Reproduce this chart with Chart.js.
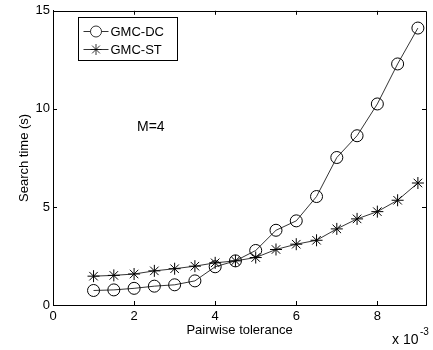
<!DOCTYPE html>
<html>
<head>
<meta charset="utf-8">
<script src="https://cdn.jsdelivr.net/npm/chart.js@4"></script>
<style>
  html, body { margin: 0; padding: 0; background: #fff; }
  #chart { display: block; }
</style>
</head>
<body>
<canvas id="chart" width="433" height="350"></canvas>
<script>
// pairwise tolerance (x 10^-3)
let tolerance = [1, 1.5, 2, 2.5, 3, 3.5, 4, 4.5, 5, 5.5, 6, 6.5, 7, 7.5, 8, 8.5, 9];
// search time (s)
let gmcDC = [0.74, 0.77, 0.85, 0.96, 1.03, 1.23, 1.95, 2.25, 2.78, 3.81, 4.29, 5.53, 7.52, 8.63, 10.25, 12.29, 14.12];
let gmcST = [1.47, 1.51, 1.58, 1.74, 1.85, 1.98, 2.15, 2.25, 2.42, 2.83, 3.1, 3.3, 3.88, 4.39, 4.76, 5.34, 6.22];
let seriesNames = ["GMC-DC", "GMC-ST"];
let xTicks = [0, 2, 4, 6, 8];
let yTicks = [0, 5, 10, 15];

const FONT = "'Liberation Sans', Arial, sans-serif";

function toPoints(ys) {
  return tolerance.map(function (x, i) { return {x: x, y: ys[i]}; });
}

// matlab style frame: box, inward ticks on all sides, legend, annotations
let matlabFrame = {
  id: 'matlabFrame',
  afterDraw: function (chart) {
    let ctx = chart.ctx;
    let a = chart.chartArea;
    let xs = chart.scales.x, ys = chart.scales.y;
    let tl = 4;
    ctx.save();
    ctx.strokeStyle = '#000';
    ctx.lineWidth = 1;
    ctx.beginPath();
    ctx.rect(Math.round(a.left) + 0.5, Math.round(a.top) + 0.5, Math.round(a.right - a.left), Math.round(a.bottom - a.top));
    ctx.stroke();

    ctx.beginPath();
    xTicks.forEach(function (v) {
      let px = Math.round(xs.getPixelForValue(v)) + 0.5;
      ctx.moveTo(px, a.bottom); ctx.lineTo(px, a.bottom - tl);
      ctx.moveTo(px, a.top); ctx.lineTo(px, a.top + tl);
    });
    yTicks.forEach(function (v) {
      let py = Math.round(ys.getPixelForValue(v)) + 0.5;
      ctx.moveTo(a.left, py); ctx.lineTo(a.left + tl, py);
      ctx.moveTo(a.right, py); ctx.lineTo(a.right - tl, py);
    });
    ctx.stroke();

    // legend
    let lx = 78.5, ly = 17.5, lw = 99, lh = 43;
    ctx.fillStyle = '#fff';
    ctx.fillRect(lx, ly, lw, lh);
    ctx.strokeRect(lx, ly, lw, lh);
    ctx.font = '13px ' + FONT;
    ctx.textBaseline = 'middle';
    ctx.textAlign = 'left';
    chart.data.datasets.forEach(function (ds, i) {
      let rowY = ly + 14 + i * 18;
      ctx.beginPath();
      ctx.moveTo(lx + 5, rowY); ctx.lineTo(lx + 30, rowY);
      ctx.lineWidth = 0.8;
      ctx.stroke();
      Chart.helpers.drawPoint(ctx, {pointStyle: ds.pointStyle, radius: 5.5, borderWidth: 1}, lx + 17.5, rowY);
      ctx.fillStyle = '#000';
      ctx.fillText(ds.label, lx + 32, rowY + 1);
    });

    // annotation
    ctx.fillStyle = '#000';
    ctx.font = '14px ' + FONT;
    ctx.fillText('M=4', 137, 127);

    // exponent label
    ctx.textBaseline = 'alphabetic';
    ctx.font = '14px ' + FONT;
    ctx.fillText('x 10', 392, 344);
    ctx.font = '10px ' + FONT;
    ctx.fillText('-3', 420, 335);
    ctx.restore();
  }
};

let chart = new Chart(document.getElementById('chart').getContext('2d'), {
  type: 'scatter',
  data: {
    datasets: [
      {
        label: seriesNames[0],
        data: toPoints(gmcDC),
        showLine: true,
        borderColor: '#000',
        backgroundColor: 'rgba(0,0,0,0)',
        borderWidth: 0.8,
        pointStyle: 'circle',
        pointRadius: 6,
        pointBorderWidth: 1,
        pointBorderColor: '#000',
        pointBackgroundColor: 'rgba(0,0,0,0)'
      },
      {
        label: seriesNames[1],
        data: toPoints(gmcST),
        showLine: true,
        borderColor: '#000',
        backgroundColor: 'rgba(0,0,0,0)',
        borderWidth: 0.8,
        pointStyle: 'star',
        pointRadius: 6,
        pointBorderWidth: 1,
        pointBorderColor: '#000',
        pointBackgroundColor: 'rgba(0,0,0,0)'
      }
    ]
  },
  options: {
    responsive: false,
    animation: false,
    events: [],
    layout: { padding: { top: 9, right: 4, left: 0, bottom: 0 } },
    plugins: { legend: { display: false }, tooltip: { enabled: false } },
    scales: {
      x: {
        type: 'linear',
        min: 0,
        max: 9.2,
        afterBuildTicks: function (s) { s.ticks = xTicks.map(function (v) { return {value: v}; }); },
        afterFit: function (s) { s.height = 45; },
        ticks: { color: '#000', font: { family: FONT, size: 13 }, padding: 4, maxRotation: 0 },
        grid: { drawOnChartArea: false, drawTicks: false },
        border: { color: '#000', width: 1 },
        title: { display: true, text: 'Pairwise tolerance', color: '#000', font: { family: FONT, size: 13 }, padding: { top: 0, bottom: 12 } }
      },
      y: {
        type: 'linear',
        min: 0,
        max: 15,
        afterBuildTicks: function (s) { s.ticks = yTicks.map(function (v) { return {value: v}; }); },
        afterFit: function (s) { s.width = 53; },
        ticks: { color: '#000', font: { family: FONT, size: 13 }, padding: 3 },
        grid: { drawOnChartArea: false, drawTicks: false },
        border: { color: '#000', width: 1 },
        title: { display: true, text: 'Search time (s)', color: '#000', font: { family: FONT, size: 13 }, padding: { top: 17, bottom: 0 } }
      }
    }
  },
  plugins: [matlabFrame]
});
</script>
</body>
</html>
